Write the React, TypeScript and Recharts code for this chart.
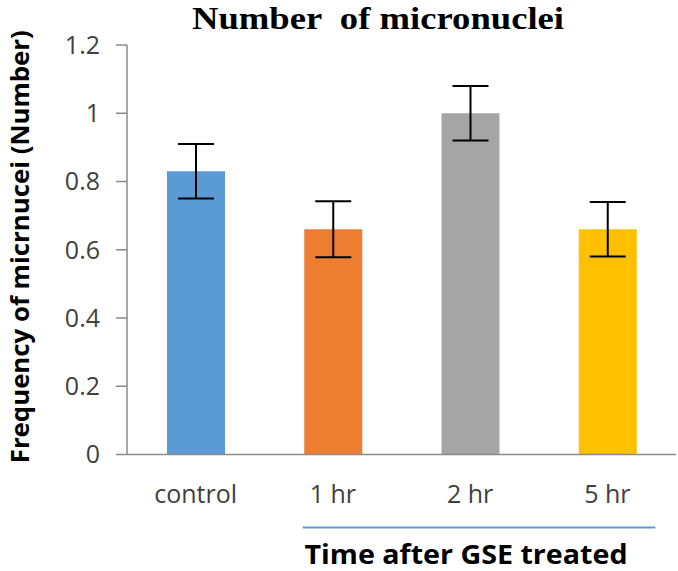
import React from 'react';
import { BarChart, Bar, XAxis, YAxis, ErrorBar, Cell } from 'recharts';

const categories = ['control', '1 hr', '2 hr', '5 hr'];
const means = [0.83, 0.66, 1.0, 0.66];
const errors = [0.08, 0.082, 0.08, 0.08];
const colors = ['#5B9BD5', '#ED7D31', '#A5A5A5', '#FFC000'];
const yTicks = [0, 0.2, 0.4, 0.6, 0.8, 1, 1.2];

const titleText = 'Number  of micronuclei';
const yLabelText = 'Frequency of micrnucei (Number)';
const xLabelText = 'Time after GSE treated';

const data = categories.map((name, i) => ({ name, value: means[i], err: errors[i] }));

const SANS = '"Open Sans", "Noto Sans", sans-serif';
const AXIS_GRAY = '#8a8a8a';
const TEXT = '#404040';

const YLabel = (props: any) => {
  const vb = props.viewBox || {};
  const cx = 19;
  const cy = vb.y + vb.height / 2 - 3;
  return (
    <text
      x={cx}
      y={cy}
      transform={`rotate(-90, ${cx}, ${cy})`}
      textAnchor="middle"
      dominantBaseline="central"
      fontFamily={SANS}
      fontWeight={700}
      fontSize={25}
      fill="#000"
      textLength={433}
      lengthAdjust="spacingAndGlyphs"
    >
      {yLabelText}
    </text>
  );
};

const XLabel = (props: any) => {
  const vb = props.viewBox || {};
  const band = vb.width / categories.length;
  const lineY = vb.y + 73;
  const x1 = vb.x + band * 1.28;
  const x2 = vb.x + band * 3.85;
  const tx = vb.x + band * 2.47;
  return (
    <g>
      <line x1={x1} x2={x2} y1={lineY} y2={lineY} stroke="#5B9BD5" strokeWidth={1.8} />
      <text
        x={tx}
        y={vb.y + 109}
        textAnchor="middle"
        fontFamily={SANS}
        fontWeight={700}
        fontSize={26}
        fill="#000"
        textLength={323}
        lengthAdjust="spacingAndGlyphs"
      >
        {xLabelText}
      </text>
    </g>
  );
};

export default function App() {
  return (
    <div style={{ position: 'absolute', left: 0, top: 0, width: 678, height: 571, background: '#fff' }}>
      <BarChart
        width={678}
        height={571}
        data={data}
        margin={{ top: 45, right: 2, bottom: 0, left: 0 }}
        barSize={58}
      >
        <XAxis
          dataKey="name"
          interval={0}
          height={116.5}
          tickLine={false}
          tickSize={0}
          tickMargin={31}
          axisLine={{ stroke: AXIS_GRAY, strokeWidth: 1.5 }}
          tick={{ fill: TEXT, fontSize: 25, fontFamily: SANS }}
          label={<XLabel />}
        />
        <YAxis
          width={127}
          domain={[0, 1.2]}
          ticks={yTicks}
          interval={0}
          tickSize={11}
          tickMargin={16}
          axisLine={{ stroke: AXIS_GRAY, strokeWidth: 1.5 }}
          tickLine={{ stroke: AXIS_GRAY, strokeWidth: 1.5 }}
          tick={{ fill: TEXT, fontSize: 25, fontFamily: SANS }}
          tickFormatter={(v: number) => String(v)}
          label={<YLabel />}
        />
        <Bar dataKey="value" isAnimationActive={false}>
          {data.map((d, i) => (
            <Cell key={d.name} fill={colors[i]} />
          ))}
          <ErrorBar dataKey="err" width={18} stroke="#000" strokeWidth={2} isAnimationActive={false} />
        </Bar>
      </BarChart>
      <svg width={678} height={45} style={{ position: 'absolute', left: 0, top: 0 }}>
        <text
          x={378}
          y={29}
          textAnchor="middle"
          fontFamily='"Liberation Serif", "Times New Roman", serif'
          fontWeight={700}
          fontSize={32}
          fill="#000"
          style={{ whiteSpace: 'pre' }}
          textLength={372}
          lengthAdjust="spacingAndGlyphs"
        >
          {titleText}
        </text>
      </svg>
    </div>
  );
}
